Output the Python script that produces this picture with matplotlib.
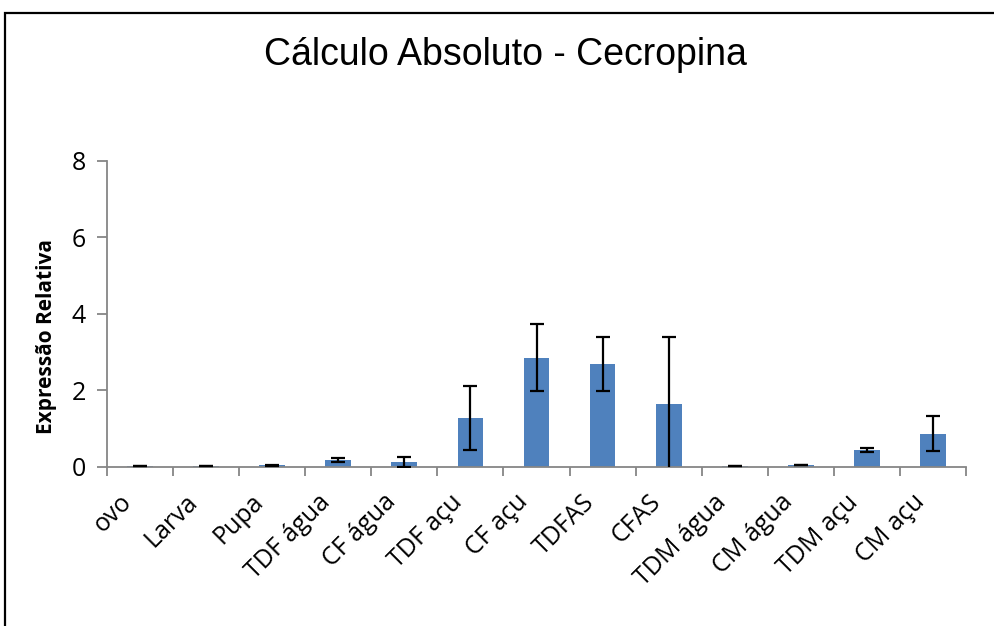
import matplotlib
matplotlib.use("Agg")
import matplotlib.pyplot as plt
from matplotlib.patches import Rectangle
from matplotlib.transforms import ScaledTranslation

# dados
categorias = ["ovo", "Larva", "Pupa", "TDF água", "CF água", "TDF açu", "CF açu",
              "TDFAS", "CFAS", "TDM água", "CM água", "TDM açu", "CM açu"]
valores = [0.01, 0.01, 0.03, 0.16, 0.12, 1.27, 2.85, 2.68, 1.64, 0.01, 0.04, 0.43, 0.86]
erros = [0.005, 0.005, 0.01, 0.05, 0.12, 0.85, 0.88, 0.71, 1.76, 0.005, 0.01, 0.05, 0.45]
yticks = [0, 2, 4, 6, 8]

W, H = 994, 626
fig = plt.figure(figsize=(W / 100, H / 100), dpi=100)
ax = fig.add_axes([107 / W, 1 - 466.5 / H, (966 - 107) / W, (466.5 - 161) / H])

x = list(range(len(categorias)))
ax.bar(x, valores, width=0.39, color="#4F81BD", zorder=2)
ax.errorbar(x, valores, yerr=erros, fmt="none", ecolor="black", elinewidth=1.6,
            capsize=5, capthick=1.6, zorder=3)

ax.set_xlim(-0.5, len(categorias) - 0.5)
ax.set_ylim(0, 8)
ax.set_yticks(yticks)

# eixo
cinza = "#868686"
for s in ["top", "right"]:
    ax.spines[s].set_visible(False)
for s in ["left", "bottom"]:
    ax.spines[s].set_color(cinza)
    ax.spines[s].set_linewidth(1.3)

ax.set_xticks(x)
ax.set_xticks([i - 0.5 for i in range(len(categorias) + 1)], minor=True)
ax.tick_params(axis="x", which="major", length=0, pad=23)
ax.tick_params(axis="x", which="minor", length=6.5, width=1.3, color=cinza, direction="out")
ax.tick_params(axis="y", length=7, width=1.3, color=cinza, pad=8, labelsize=18)
for lab in ax.get_yticklabels():
    lab.set_fontfamily("Open Sans")

ax.set_xticklabels(categorias, rotation=45, ha="right", va="center",
                   rotation_mode="anchor", fontsize=18, fontfamily="Open Sans")
desloc = ScaledTranslation(-12 / 100, 0, fig.dpi_scale_trans)
for lab in ax.get_xticklabels():
    lab.set_transform(lab.get_transform() + desloc)

ax.set_ylabel("Expressão Relativa", fontsize=15, fontweight="bold", fontfamily="Open Sans")
ax.yaxis.set_label_coords(-0.058, 0.424)

fig.text(505 / W, 1 - 55 / H, "Cálculo Absoluto - Cecropina", ha="center", va="center",
         fontsize=27, fontfamily="Liberation Sans")

# moldura do gráfico (cortada à direita e embaixo)
fig.add_artist(Rectangle((5 / W, -0.1), 1.2, 1 - 12.5 / H + 0.1, transform=fig.transFigure,
                         fill=False, ec="black", lw=1.6))

fig.savefig("out.png", dpi=100)
